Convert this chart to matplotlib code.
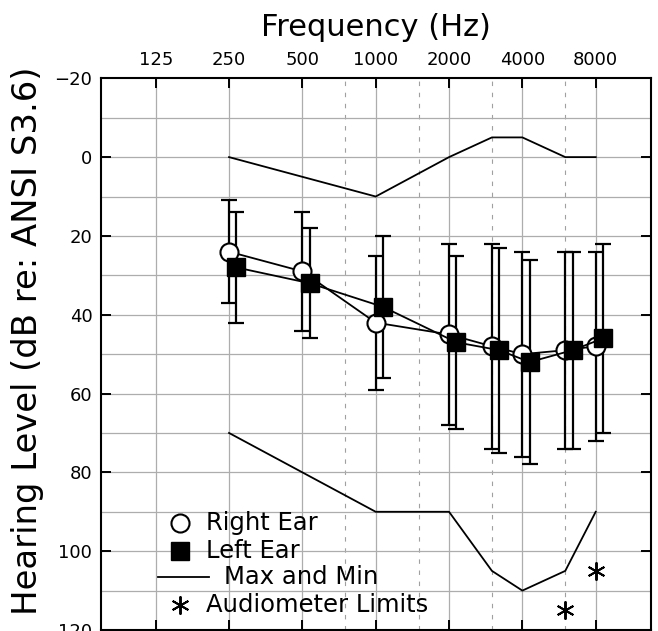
import matplotlib
matplotlib.use("Agg")
import matplotlib.pyplot as plt
from matplotlib.lines import Line2D

# audiogram data (dB HL)
freqs = [250, 500, 1000, 2000, 3000, 4000, 6000, 8000]
right_mean = [24, 29, 42, 45, 48, 50, 49, 48]
right_top = [11, 14, 25, 22, 22, 24, 24, 24]
right_bottom = [37, 44, 59, 68, 74, 76, 74, 72]
left_mean = [28, 32, 38, 47, 49, 52, 49, 46]
left_top = [14, 18, 20, 25, 23, 26, 24, 22]
left_bottom = [42, 46, 56, 69, 75, 78, 74, 70]

max_line = [0, 5, 10, 0, -5, -5, 0, 0]
min_line = [70, 80, 90, 90, 105, 110, 105, 90]

limit_freqs = [6000, 8000]
limit_levels = [115, 105]

octave_ticks = [125, 250, 500, 1000, 2000, 4000, 8000]
half_octaves = [750, 1500, 3000, 6000]
level_ticks = [-20, 0, 20, 40, 60, 80, 100, 120]

plt.rcParams['font.family'] = ['DejaVu Sans']

W, H = 658, 631
fig = plt.figure(figsize=(W / 100, H / 100), dpi=100)
# axes box in pixels: x 100.7..650.7, y 78.3..630
ax = fig.add_axes([100.7 / W, 1.0 / H, 550 / W, (630 - 78.3) / H])

ax.set_xscale('log', base=2)
ax.set_xlim(125 / 2 ** 0.75, 8000 * 2 ** 0.75)
ax.set_ylim(120, -20)

# grid
for f in octave_ticks:
    ax.axvline(f, color='#adadad', lw=0.9, zorder=0)
for f in half_octaves:
    ax.axvline(f, color='#a0a0a0', lw=0.8, dashes=(4, 6), zorder=0)
for lv in range(-10, 120, 10):
    ax.axhline(lv, color='#adadad', lw=0.9, zorder=0)

ax.set_xticks(octave_ticks)
ax.set_xticklabels([str(f) for f in octave_ticks])
ax.minorticks_off()
ax.set_yticks(level_ticks)
ax.tick_params(axis='x', top=True, bottom=True, labeltop=True, labelbottom=False,
               direction='in', length=7, width=1.4, labelsize=13, pad=7)
ax.tick_params(axis='y', left=True, right=True, direction='in', length=7,
               width=1.4, labelsize=13, pad=6)
for s in ax.spines.values():
    s.set_linewidth(1.5)

# max / min range
ax.plot(freqs, max_line, color='black', lw=1.3, zorder=2)
ax.plot(freqs, min_line, color='black', lw=1.3, zorder=2)

# error bars
left_freqs = [f * 2 ** 0.1 for f in freqs]
r_err = [[m - t for m, t in zip(right_mean, right_top)],
         [b - m for m, b in zip(right_mean, right_bottom)]]
l_err = [[m - t for m, t in zip(left_mean, left_top)],
         [b - m for m, b in zip(left_mean, left_bottom)]]
ax.errorbar(freqs, right_mean, yerr=r_err, fmt='none', ecolor='black',
            elinewidth=1.6, capsize=6, capthick=1.6, zorder=3)
ax.errorbar(left_freqs, left_mean, yerr=l_err, fmt='none', ecolor='black',
            elinewidth=1.6, capsize=6, capthick=1.6, zorder=3)

ax.plot(freqs, right_mean, color='black', lw=1.3, marker='o', ms=13,
        mfc='white', mec='black', mew=1.5, zorder=4)
ax.plot(left_freqs, left_mean, color='black', lw=1.3, marker='s', ms=12.5,
        mfc='black', mec='black', zorder=5)

ax.plot(limit_freqs, limit_levels, ls='none', marker=(6, 2, 0), ms=13,
        color='black', mew=1.4, zorder=4)

# hand-placed legend (pixel positions)
def px(x, y):
    return ((x - 100.7) / 550, (630 - y) / (630 - 78.3))

legend_rows = [
    dict(y=523.3, text='Right Ear', tx=205.7,
         kw=dict(marker='o', ms=13, mfc='white', mec='black', mew=1.5, ls='none')),
    dict(y=550.7, text='Left Ear', tx=205.7,
         kw=dict(marker='s', ms=12.5, mfc='black', mec='black', ls='none')),
    dict(y=576.7, text='Max and Min', tx=224.4, kw=None),
    dict(y=605.0, text='Audiometer Limits', tx=206.5,
         kw=dict(marker=(6, 2, 0), ms=13, color='black', mew=1.4, ls='none')),
]
for row in legend_rows:
    if row['kw'] is None:
        x0, y0 = px(157.7, row['y'])
        x1, _ = px(209, row['y'])
        ax.add_line(Line2D([x0, x1], [y0, y0], color='black', lw=1.3,
                           transform=ax.transAxes, zorder=6))
    else:
        xm, ym = px(180, row['y'])
        ax.add_line(Line2D([xm], [ym], transform=ax.transAxes, zorder=6, **row['kw']))
    xt, yt = px(row['tx'], row['y'])
    ax.text(xt, yt, row['text'], transform=ax.transAxes, fontsize=17.5,
            va='center', ha='left', zorder=6)

fig.text(375.7 / W, 1 - 28 / H, 'Frequency (Hz)', fontsize=22,
         ha='center', va='center')
fig.text(28 / W, 1 - 341 / H, 'Hearing Level (dB re: ANSI S3.6)', fontsize=24.4,
         rotation=90, ha='center', va='center')

fig.savefig('out.png', dpi=100)
